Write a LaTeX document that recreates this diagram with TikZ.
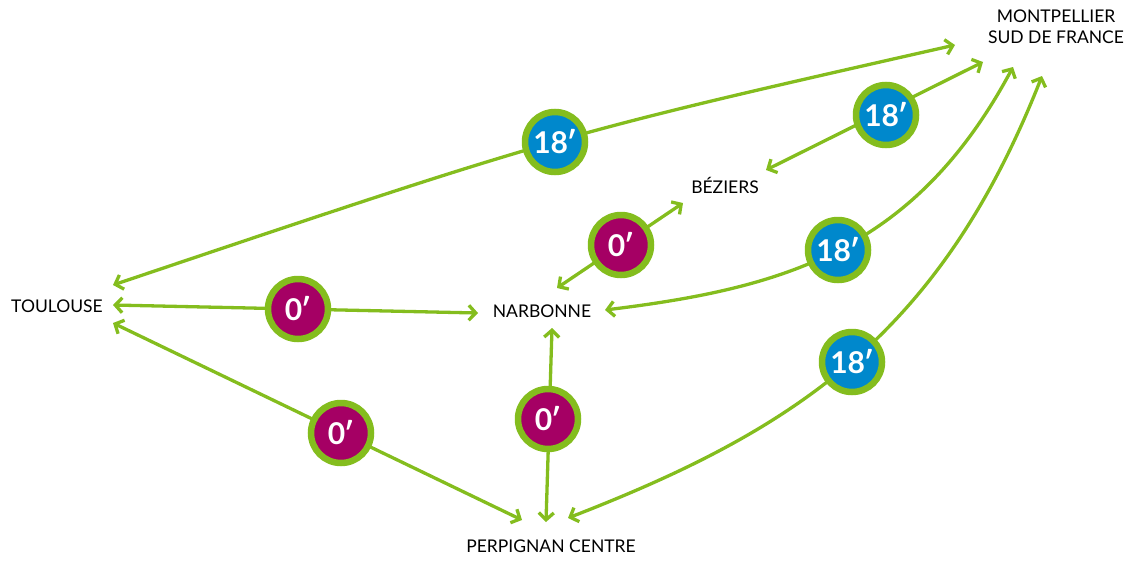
\documentclass[tikz,border=0pt]{standalone}
\usepackage{fontspec}
\setmainfont{Lato}
\usetikzlibrary{arrows.meta}
\definecolor{lgreen}{HTML}{84BD1E}
\definecolor{bblue}{HTML}{0088CC}
\definecolor{bpurple}{HTML}{A50064}
\tikzset{
  link/.style={draw=lgreen, line width=3.3pt,
    arrows={Straight Barb[length=7pt,width=15pt]-Straight Barb[length=7pt,width=15pt]}},
  city/.style={font=\fontsize{17.5}{21}\selectfont, text=black, align=center, inner sep=0pt},
  badge/.style={circle, draw=lgreen, line width=6.5pt, minimum size=60pt, inner sep=0pt,
    text=white, font=\fontsize{30}{30}\selectfont\bfseries},
  bluebadge/.style={badge, fill=bblue},
  purplebadge/.style={badge, fill=bpurple}
}
\begin{document}
\begin{tikzpicture}[x=1pt,y=-1pt]
\useasboundingbox (0,0) rectangle (1138,560);
% city labels
\node[city] (tls) at (57,306) {TOULOUSE};
\node[city] (nar) at (542,311) {NARBONNE};
\node[city] (bez) at (725,185) {BÉZIERS};
\node[city] (per) at (551,546) {PERPIGNAN CENTRE};
\node[city] (mtp) at (1056,27) {MONTPELLIER\\SUD DE FRANCE};
% connector ends
\coordinate (tlsA) at (113,285);
\coordinate (tlsB) at (113,305);
\coordinate (tlsC) at (113,323);
\coordinate (narW) at (478,313);
\coordinate (narNE) at (557,288);
\coordinate (narE) at (605,310);
\coordinate (narS) at (552,328);
\coordinate (bezSW) at (683,203);
\coordinate (bezE) at (766,170);
\coordinate (perW) at (522,520);
\coordinate (perN) at (546,522);
\coordinate (perE) at (568,518);
\coordinate (mtpA) at (955,45);
\coordinate (mtpB) at (983,62);
\coordinate (mtpC) at (1013,67);
\coordinate (mtpD) at (1042,76);
% connectors
\draw[link] (tlsA) .. controls (562,134) .. (mtpA);
\draw[link] (bezE) -- (mtpB);
\draw[link] (narNE) -- (bezSW);
\draw[link] (tlsB) -- (narW);
\draw[link] (narE) .. controls (785,288) and (915,250) .. (mtpC);
\draw[link] (perE) .. controls (795,430) and (940,335) .. (mtpD);
\draw[link] (tlsC) -- (perW);
\draw[link] (narS) -- (perN);
% badges
\node[bluebadge] (b1) at (555,142) {18\kern-1.5pt′};
\node[bluebadge] (b2) at (886,115) {18\kern-1.5pt′};
\node[bluebadge] (b3) at (838,250) {18\kern-1.5pt′};
\node[bluebadge] (b4) at (852,362) {18\kern-1.5pt′};
\node[purplebadge] (p1) at (621,245) {0\kern-1.5pt′};
\node[purplebadge] (p2) at (298,309) {0\kern-1.5pt′};
\node[purplebadge] (p3) at (341,433) {0\kern-1.5pt′};
\node[purplebadge] (p4) at (548,419) {0\kern-1.5pt′};
\end{tikzpicture}
\end{document}
